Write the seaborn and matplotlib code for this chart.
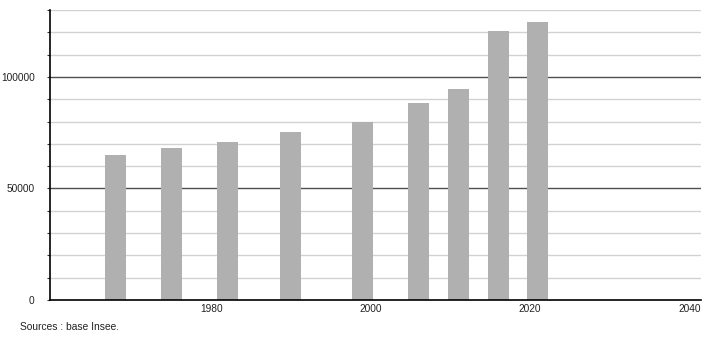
import matplotlib
matplotlib.use("Agg")
import matplotlib.pyplot as plt
import seaborn as sns
import pandas as pd
import numpy as np

years = [1968, 1975, 1982, 1990, 1999, 2006, 2011, 2016, 2021]
population = [65100, 68250, 70950, 75450, 79950, 88450, 94600, 120800, 124800]
x_ticks = [1980, 2000, 2020, 2040]
y_ticks = [0, 50000, 100000]
source_text = "Sources : base Insee."

sns.set_theme(style="white")
plt.rcParams['font.family'] = ['Liberation Sans', 'DejaVu Sans']

df = pd.DataFrame({"annee": years, "pop": population})

fig = plt.figure(figsize=(7.1, 3.4), dpi=100)
ax = fig.add_axes([50/710, 40/340, 651/710, 290/340])

# gridlines
for v in range(10000, 130001, 10000):
    if v % 50000 == 0:
        ax.axhline(v, color="#4f4f4f", lw=1.0, zorder=0)
    else:
        ax.axhline(v, color="#d2d2d2", lw=1.0, zorder=0)

sns.barplot(data=df, x="annee", y="pop", native_scale=True, width=0.53,
            color="#b0b0b0", saturation=1, ax=ax, zorder=2, edgecolor="none")

ax.set_xlim(1959.78, 2041.46)
ax.set_ylim(0, 130000)
ax.set_xlabel("")
ax.set_ylabel("")
ax.set_xticks(x_ticks)
ax.set_xticklabels([str(t) for t in x_ticks])
ax.set_yticks(np.arange(0, 130001, 10000), minor=True)
ax.set_yticks(y_ticks)
ax.set_yticklabels([str(t) for t in y_ticks])
ax.tick_params(axis="x", length=0, labelsize=7.3, colors="#222222", pad=3)
ax.tick_params(axis="y", which="both", length=2, width=0.8, color="#333333",
               labelsize=7.3, labelcolor="#222222", pad=9, left=True)
for s in ["top", "right"]:
    ax.spines[s].set_visible(False)
ax.spines["left"].set_color("black")
ax.spines["bottom"].set_color("black")
ax.spines["left"].set_linewidth(1.2)
ax.spines["bottom"].set_linewidth(1.2)
ax.spines["left"].set_zorder(3)
ax.spines["bottom"].set_zorder(3)

fig.text(20/710, 1 - 327/340, source_text, fontsize=7.4, color="#222222",
         ha="left", va="center")

fig.savefig("out.png", dpi=100, facecolor="white")
